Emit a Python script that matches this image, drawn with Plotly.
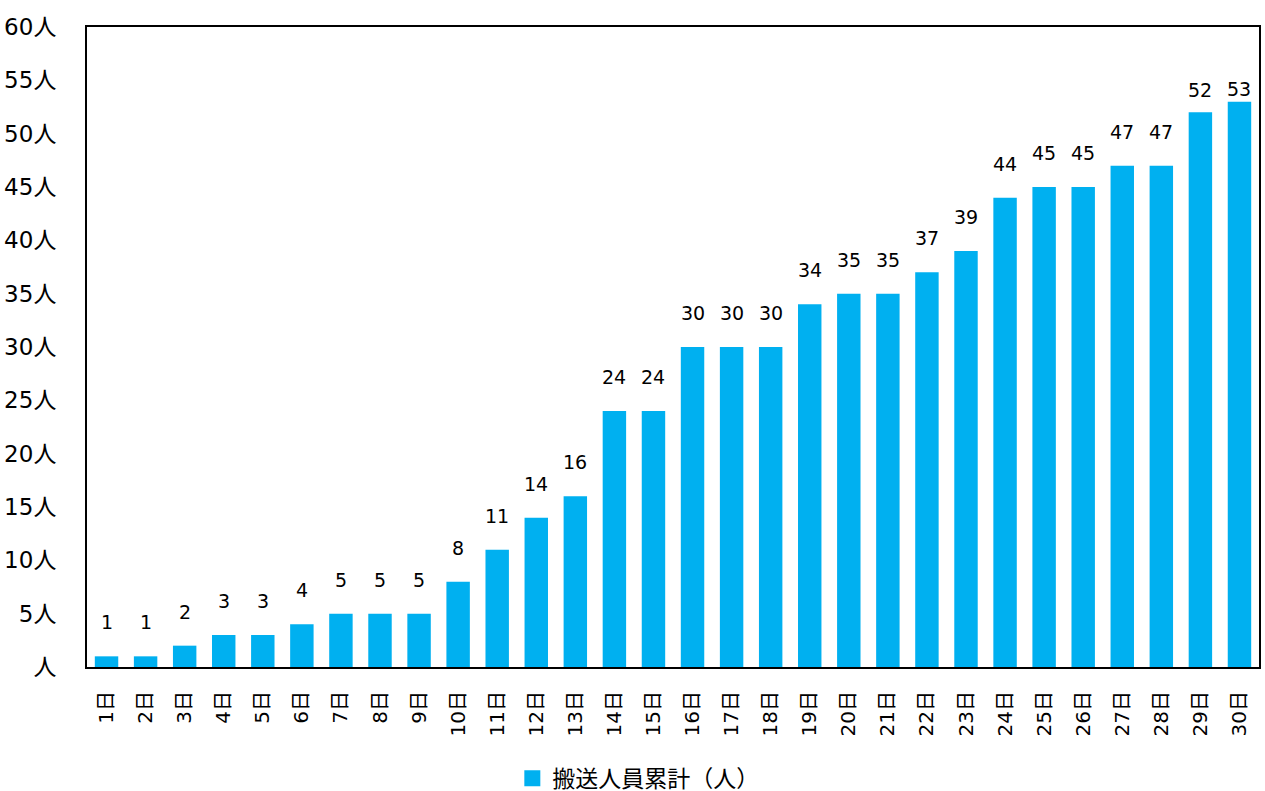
import plotly.graph_objects as go

days = [f"{i}日" for i in range(1, 31)]
values = [1, 1, 2, 3, 3, 4, 5, 5, 5, 8, 11, 14, 16, 24, 24, 30, 30, 30, 34, 35, 35, 37, 39, 44, 45, 45, 47, 47, 52, 53]
tick_vals = list(range(0, 61, 5))
tick_text = ["人"] + [f"{v}人" for v in tick_vals[1:]]
series_name = "搬送人員累計（人）"

font_family = "DejaVu Sans, Noto Sans CJK JP, sans-serif"
bar_color = "#00B0F0"

fig = go.Figure()
fig.add_trace(go.Bar(
    x=days, y=values, name=series_name, showlegend=False,
    marker=dict(color=bar_color, line=dict(width=0)),
    width=0.6,
))
# legend entry with a larger square swatch
fig.add_trace(go.Scatter(
    x=[None], y=[None], mode="markers", name=series_name,
    marker=dict(symbol="square", size=17, color=bar_color),
))

# data labels
label_shift = {28: 9, 29: 0}
for i, (d, v) in enumerate(zip(days, values)):
    fig.add_annotation(
        x=d, y=v, text=str(v), showarrow=False, yanchor="bottom",
        yshift=label_shift.get(i, 21),
        font=dict(size=19, color="#000000", family=font_family),
    )

fig.update_layout(
    width=1265, height=791,
    margin=dict(l=87, r=6, t=27, b=124),
    plot_bgcolor="white", paper_bgcolor="white",
    font=dict(family=font_family, size=20, color="#000000"),
    showlegend=True,
    legend=dict(orientation="h", xref="container", yref="container",
                x=0.405, xanchor="left", y=0.016, yanchor="middle",
                font=dict(size=23, family=font_family), itemwidth=30),
)
fig.update_xaxes(showline=True, linecolor="#000000", linewidth=2, mirror=True,
                 tickangle=-90, ticks="", tickfont=dict(size=20),
                 ticklabelstandoff=14, automargin=False)
fig.update_yaxes(range=[0, 60], tickvals=tick_vals, ticktext=tick_text,
                 showline=True, linecolor="#000000", linewidth=2, mirror=True,
                 showgrid=False, zeroline=False, ticks="", ticklabelstandoff=24,
                 tickfont=dict(size=23), automargin=False)

page_css = (
    "var h=document.documentElement,b=document.body;"
    "h.style.margin='0';h.style.padding='0';h.style.overflow='hidden';h.style.height='791px';"
    "b.style.margin='0';b.style.padding='0';b.style.overflow='hidden';b.style.height='791px';"
)
fig.write_html("out.html", config={"displayModeBar": False}, post_script=page_css)
